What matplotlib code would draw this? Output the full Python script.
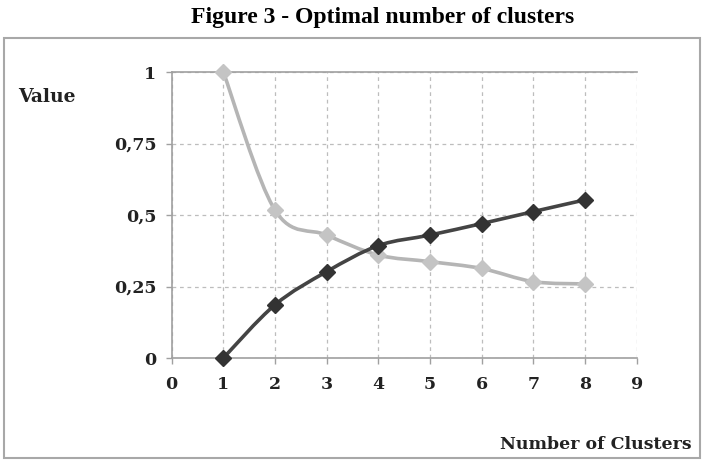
import matplotlib.pyplot as plt
from matplotlib.path import Path
from matplotlib.patches import PathPatch, Rectangle
import numpy as np

# data
clusters = [1, 2, 3, 4, 5, 6, 7, 8]
light_values = [1.0, 0.517, 0.43, 0.36, 0.337, 0.313, 0.267, 0.259]
dark_values = [0.0, 0.186, 0.302, 0.393, 0.43, 0.47, 0.512, 0.553]
y_ticks = [0, 0.25, 0.5, 0.75, 1]
y_labels = ['0', '0,25', '0,5', '0,75', '1']
x_ticks = list(range(0, 10))

LIGHT = '#b5b5b5'
LIGHT_MK = '#c4c4c4'
DARK = '#444444'
DARK_MK = '#333333'
GRID = '#bdbdbd'
FONT = 'DejaVu Serif'


def smooth_path(xs, ys):
    # Excel-like smoothed line: Catmull-Rom segments as cubic beziers
    pts = np.column_stack([xs, ys]).astype(float)
    verts = [pts[0]]
    codes = [Path.MOVETO]
    n = len(pts)
    for i in range(n - 1):
        p0 = pts[i - 1] if i > 0 else pts[i]
        p1 = pts[i]
        p2 = pts[i + 1]
        p3 = pts[i + 2] if i + 2 < n else pts[i + 1]
        c1 = p1 + (p2 - p0) / 6
        c2 = p2 - (p3 - p1) / 6
        verts += [c1, c2, p2]
        codes += [Path.CURVE4] * 3
    return Path(verts, codes)


fig = plt.figure(figsize=(7.05, 4.62), dpi=100)
fig.patch.set_facecolor('white')

# outer chart frame
fig.patches.append(Rectangle((0.005, 0.008), 0.988, 0.91, transform=fig.transFigure,
                             fill=False, edgecolor='#a8a8a8', linewidth=1.5))

ax = fig.add_axes([0.2435, 0.2251, 0.6596, 0.619])
ax.set_xlim(0, 9)
ax.set_ylim(0, 1)

for series, col, mk in [(light_values, LIGHT, LIGHT_MK), (dark_values, DARK, DARK_MK)]:
    ax.add_patch(PathPatch(smooth_path(clusters, series), fill=False,
                           edgecolor=col, linewidth=2.6, zorder=3))
    ax.plot(clusters, series, linestyle='none', marker='D', markersize=8.5,
            color=mk, zorder=4, clip_on=False)

ax.set_xticks(x_ticks)
ax.set_yticks(y_ticks)
ax.set_yticklabels(y_labels)
ax.grid(True, linestyle=(0, (3, 3)), color=GRID, linewidth=0.9)
ax.set_axisbelow(True)

for s in ['left', 'bottom', 'top']:
    ax.spines[s].set_color('#a0a0a0')
    ax.spines[s].set_linewidth(1.2)
ax.spines['right'].set_visible(False)
ax.tick_params(direction='out', length=4, color='#a0a0a0', width=1)
ax.tick_params(axis='x', pad=9)
ax.tick_params(axis='y', pad=7)
for lab in ax.get_xticklabels() + ax.get_yticklabels():
    lab.set_fontfamily(FONT)
    lab.set_fontweight('bold')
    lab.set_fontsize(12.5)
    lab.set_color('#222222')

fig.text(0.543, 0.962, 'Figure 3 - Optimal number of clusters', ha='center', va='center',
         fontsize=17, fontweight='bold', family='Liberation Serif')
fig.text(0.025, 0.79, 'Value', ha='left', va='center', fontsize=13.5,
         fontweight='bold', family=FONT, color='#222222')
fig.text(0.981, 0.037, 'Number of Clusters', ha='right', va='center', fontsize=12.5,
         fontweight='bold', family=FONT, color='#222222')

fig.savefig('out.png', dpi=100)
